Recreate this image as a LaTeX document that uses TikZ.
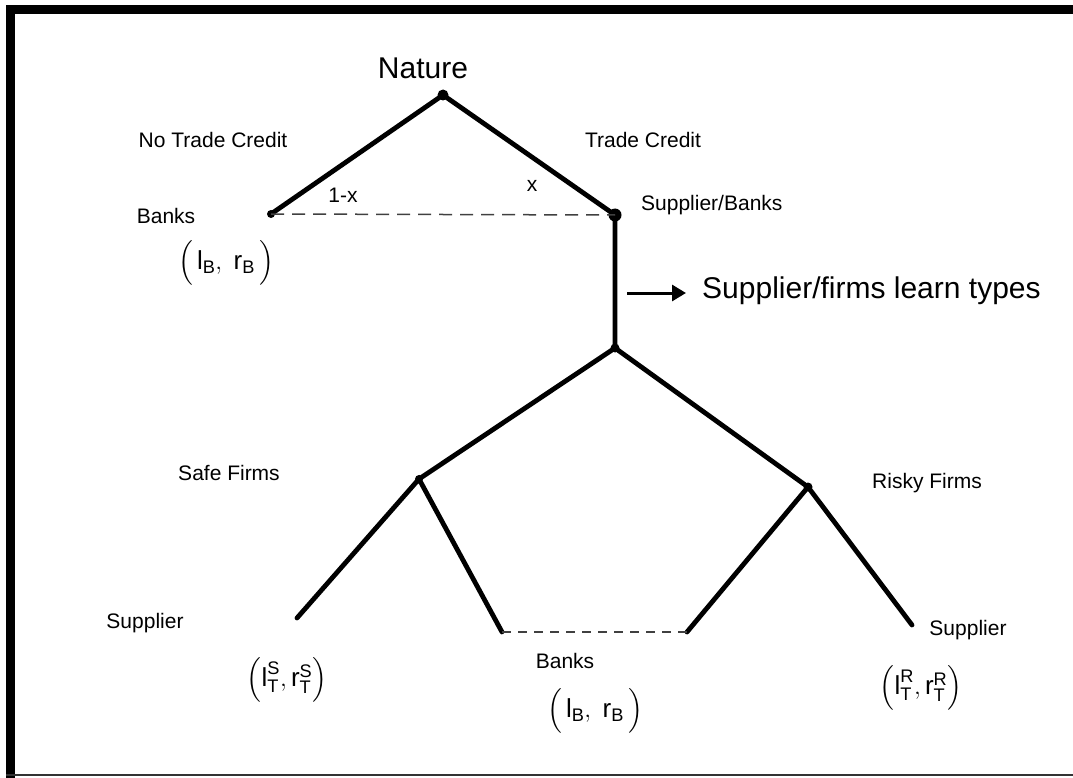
\documentclass[tikz,border=0pt]{standalone}
\usepackage{amsmath}
\usepackage{fontspec}
\setmainfont{Liberation Sans}
\usepackage{tikz}
\usetikzlibrary{arrows.meta}

\begin{document}
\begin{tikzpicture}
            [
                x=1pt, y=-1pt,
                every node/.style={inner sep=0pt},
                dot/.style={circle, fill=black, minimum size=#1},
                branch/.style={line width=4.8pt, line cap=round},
                infoset/.style={line width=1.5pt, black!75,
                    dash pattern=on 13pt off 8pt},
                lbl/.style={font=\fontsize{21}{24}\selectfont},
                biglbl/.style={font=\fontsize{30}{34}\selectfont},
                pay/.style={font=\fontsize{26}{30}\selectfont}
            ]
            \useasboundingbox (0,0) rectangle (1073,778);
            % frame
            \fill (6,5) rectangle (1073,14);
            \fill (6,5) rectangle (15,778);
            \draw[line width=2pt, black!80] (6,775) -- (1073,775);

            % decision nodes
            \node[dot=11pt] (nat) at (443,95) {};
            \node[dot=8pt] (bnk) at (271,214) {};
            \node[dot=13pt] (sb) at (615,215) {};
            \node[dot=9pt] (lt) at (615,348) {};
            \node[dot=8pt] (safe) at (419,479) {};
            \node[dot=9pt] (risky) at (808,487) {};
            \coordinate (sup1) at (297,618);
            \coordinate (bl) at (502,632);
            \coordinate (br) at (687,632);
            \coordinate (sup2) at (912,625);

            \draw[branch] (bnk.center) -- (nat.center) -- (sb.center) -- (lt.center);
            \draw[branch] (safe.center) -- (lt.center) -- (risky.center);
            \draw[branch] (sup1) -- (safe.center) -- (bl);
            \draw[branch] (br) -- (risky.center) -- (sup2);
            \draw[infoset] (bnk.center) -- (sb.center);
            \draw[infoset, line width=1.2pt, dash pattern=on 9pt off 7pt] (bl) -- (br);

            % arrow to the learning step
            \coordinate (arrs) at (627,293);
            \coordinate (arre) at (686,293);
            \draw[line width=3pt, -{Triangle[length=14pt,width=16pt]}] (arrs) -- (arre);
            \node[biglbl, anchor=west] (learn) at (702,291) {Supplier/firms learn types};

            % labels
            \node[biglbl] (natlbl) at (423,68) {Nature};
            \node[lbl] (ntc) at (213,140) {No Trade Credit};
            \node[lbl] (tc) at (643,140) {Trade Credit};
            \node[lbl] (onemx) at (343,195) {1-x};
            \node[lbl] (xlbl) at (532,186) {x};
            \node[lbl, anchor=west] (sblbl) at (641,205) {Supplier/Banks};
            \node[lbl] (bnklbl) at (166,216) {Banks};
            \node[pay] (bnkpay) at (226,263) {$\Big(\,\text{l}_{\text{B}},\ \text{r}_{\text{B}}\,\Big)$};
            \node[lbl] (safelbl) at (229,473) {Safe Firms};
            \node[lbl] (riskylbl) at (927,483) {Risky Firms};
            \node[lbl] (sup1lbl) at (145,623) {Supplier};
            \node[lbl] (sup2lbl) at (968,630) {Supplier};
            \node[lbl] (bmlbl) at (565,661) {Banks};
            \node[pay] (safepay) at (287,680) {$\Big(\text{l}^{\text{S}}_{\text{T}},\text{r}^{\text{S}}_{\text{T}}\Big)$};
            \node[pay] (bmpay) at (595,711) {$\Big(\,\text{l}_{\text{B}},\ \text{r}_{\text{B}}\,\Big)$};
            \node[pay] (riskypay) at (921,688) {$\Big(\text{l}^{\text{R}}_{\text{T}},\text{r}^{\text{R}}_{\text{T}}\Big)$};
\end{tikzpicture}
\end{document}
